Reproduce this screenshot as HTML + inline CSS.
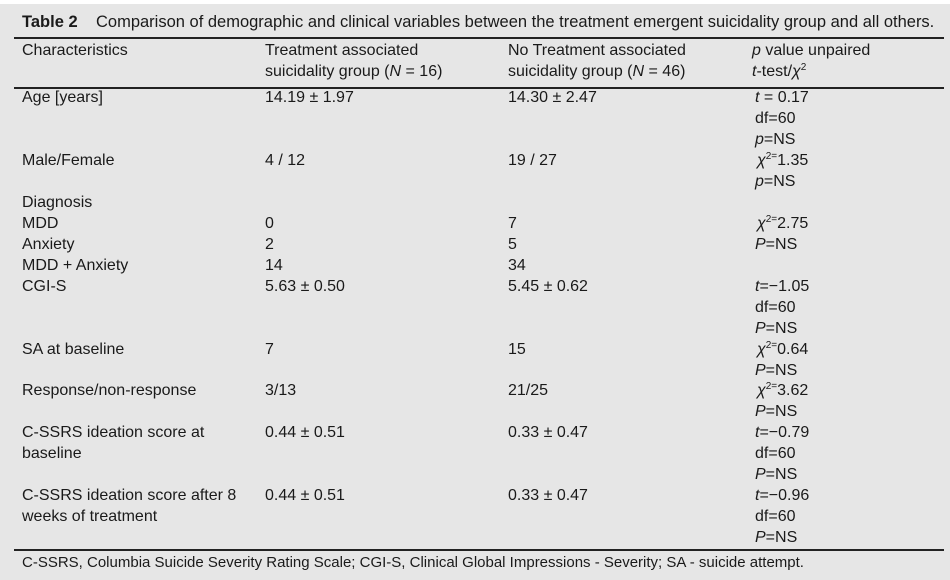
<!DOCTYPE html>
<html><head><meta charset="utf-8"><style>
body{margin:0;width:950px;height:580px;background:#e6e6e6;overflow:hidden;font-family:"Liberation Sans","DejaVu Sans",sans-serif;color:#1a1a1a;font-size:16px;}
.top{position:absolute;left:0;top:0;width:950px;height:4px;background:#fff;}
.t{position:absolute;line-height:20px;white-space:nowrap;}
.hl{position:absolute;left:14px;width:930px;height:1.5px;background:#222;}
i{font-style:italic;}
sup{font-size:10px;vertical-align:6px;line-height:0;}
</style></head><body>
<div class="top"></div>
<div class="t" style="left:22px;top:12px;font-size:16.5px"><b>Table 2</b>&nbsp;&nbsp;&nbsp; Comparison of demographic and clinical variables between the treatment emergent suicidality group and all others.</div>
<div class="hl" style="top:37px"></div>
<div class="t" style="left:22px;top:41px">Characteristics</div>
<div class="t" style="left:265px;top:41px">Treatment associated</div>
<div class="t" style="left:265px;top:62px">suicidality group (<i>N</i> = 16)</div>
<div class="t" style="left:508px;top:41px">No Treatment associated</div>
<div class="t" style="left:508px;top:62px">suicidality group (<i>N</i> = 46)</div>
<div class="t" style="left:752px;top:41px"><i>p</i> value unpaired</div>
<div class="t" style="left:752px;top:62px"><i>t</i>-test/<i>χ</i><sup>2</sup></div>
<div class="hl" style="top:87px"></div>

<div class="t" style="left:22px;top:88px">Age [years]</div>
<div class="t" style="left:265px;top:88px">14.19 ± 1.97</div>
<div class="t" style="left:508px;top:88px">14.30 ± 2.47</div>
<div class="t" style="left:755px;top:88px"><i>t</i> = 0.17</div>
<div class="t" style="left:755px;top:109px">df=60</div>
<div class="t" style="left:755px;top:130px"><i>p</i>=NS</div>

<div class="t" style="left:22px;top:151px">Male/Female</div>
<div class="t" style="left:265px;top:151px">4 / 12</div>
<div class="t" style="left:508px;top:151px">19 / 27</div>
<div class="t" style="left:757px;top:151px"><i>χ</i><sup>2=</sup>1.35</div>
<div class="t" style="left:755px;top:172px"><i>p</i>=NS</div>

<div class="t" style="left:22px;top:193px">Diagnosis</div>
<div class="t" style="left:22px;top:214px">MDD</div>
<div class="t" style="left:265px;top:214px">0</div>
<div class="t" style="left:508px;top:214px">7</div>
<div class="t" style="left:757px;top:214px"><i>χ</i><sup>2=</sup>2.75</div>
<div class="t" style="left:22px;top:235px">Anxiety</div>
<div class="t" style="left:265px;top:235px">2</div>
<div class="t" style="left:508px;top:235px">5</div>
<div class="t" style="left:755px;top:235px"><i>P</i>=NS</div>
<div class="t" style="left:22px;top:256px">MDD + Anxiety</div>
<div class="t" style="left:265px;top:256px">14</div>
<div class="t" style="left:508px;top:256px">34</div>

<div class="t" style="left:22px;top:277px">CGI-S</div>
<div class="t" style="left:265px;top:277px">5.63 ± 0.50</div>
<div class="t" style="left:508px;top:277px">5.45 ± 0.62</div>
<div class="t" style="left:755px;top:277px"><i>t</i>=−1.05</div>
<div class="t" style="left:755px;top:298px">df=60</div>
<div class="t" style="left:755px;top:319px"><i>P</i>=NS</div>

<div class="t" style="left:22px;top:340px">SA at baseline</div>
<div class="t" style="left:265px;top:340px">7</div>
<div class="t" style="left:508px;top:340px">15</div>
<div class="t" style="left:757px;top:340px"><i>χ</i><sup>2=</sup>0.64</div>
<div class="t" style="left:755px;top:361px"><i>P</i>=NS</div>

<div class="t" style="left:22px;top:381px">Response/non-response</div>
<div class="t" style="left:265px;top:381px">3/13</div>
<div class="t" style="left:508px;top:381px">21/25</div>
<div class="t" style="left:757px;top:381px"><i>χ</i><sup>2=</sup>3.62</div>
<div class="t" style="left:755px;top:402px"><i>P</i>=NS</div>

<div class="t" style="left:22px;top:423px">C-SSRS ideation score at</div>
<div class="t" style="left:22px;top:444px">baseline</div>
<div class="t" style="left:265px;top:423px">0.44 ± 0.51</div>
<div class="t" style="left:508px;top:423px">0.33 ± 0.47</div>
<div class="t" style="left:755px;top:423px"><i>t</i>=−0.79</div>
<div class="t" style="left:755px;top:444px">df=60</div>
<div class="t" style="left:755px;top:465px"><i>P</i>=NS</div>

<div class="t" style="left:22px;top:486px">C-SSRS ideation score after 8</div>
<div class="t" style="left:22px;top:507px">weeks of treatment</div>
<div class="t" style="left:265px;top:486px">0.44 ± 0.51</div>
<div class="t" style="left:508px;top:486px">0.33 ± 0.47</div>
<div class="t" style="left:755px;top:486px"><i>t</i>=−0.96</div>
<div class="t" style="left:755px;top:507px">df=60</div>
<div class="t" style="left:755px;top:528px"><i>P</i>=NS</div>

<div class="hl" style="top:549px"></div>
<div class="t" style="left:22px;top:553px;font-size:15px">C-SSRS, Columbia Suicide Severity Rating Scale; CGI-S, Clinical Global Impressions - Severity; SA - suicide attempt.</div>
</body></html>
